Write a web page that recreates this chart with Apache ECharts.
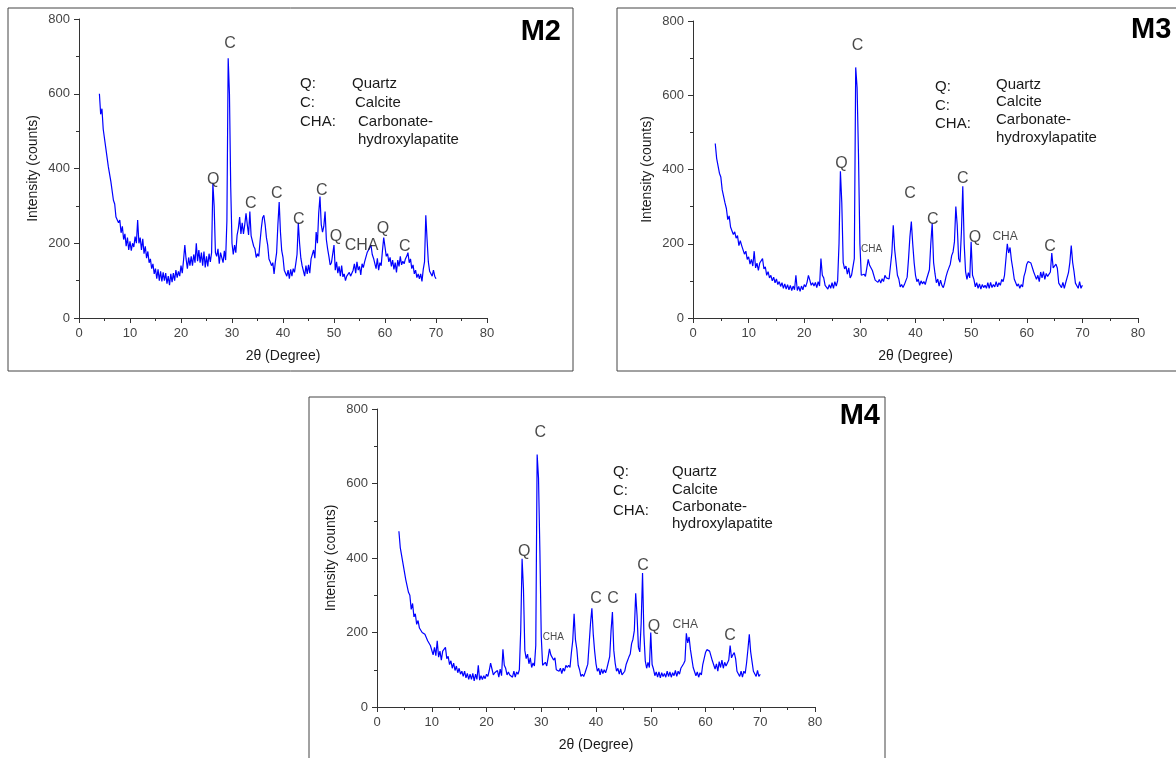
<!DOCTYPE html>
<html>
<head>
<meta charset="utf-8">
<title>XRD patterns M2, M3, M4</title>
<script src="https://cdn.jsdelivr.net/npm/echarts@6/dist/echarts.min.js"></script>
<style>
  html, body { margin: 0; padding: 0; background: #fff; }
  #chart { width: 1176px; height: 758px; }
</style>
</head>
<body>
<div id="chart"></div>
<script>
// Scan grid: intensities are sampled every 0.25 degrees of 2θ, starting at 4°.
const SCAN_START = 4;
const SCAN_STEP = 0.25;

// Axis ranges and tick spacing
const xRange = [0, 80, 10];
const yRange = [0, 800, 200];

// Intensity (counts), sample M2
const m2Intensity = [
  600, 545, 560, 505,  500, 455, 450, 405,  410, 365, 360, 315,  305, 270, 275, 255,
  262, 228, 245, 210,  225, 192, 215, 182,  205, 180, 200, 190,  218, 200, 262, 200,
  215, 182, 212, 172,  192, 160, 178, 148,  158, 132, 145, 118,  132, 105, 130, 100,
  125,  98, 122, 100,  120,  92, 112,  88,  118,  96, 120, 100,  128, 108, 125, 112,
  140, 120, 155, 195,  158, 132, 162, 140,  165, 140, 170, 148,  200, 152, 182, 148,
  175, 140, 178, 135,  165, 138, 172, 150,  175, 360, 300, 175,  165, 185, 145, 175,
  172, 148, 180, 155,  260, 695, 600, 350,  200, 170, 195, 175,  222, 240, 270, 225,
  255, 225, 250, 280,  250, 222, 285, 220,  225, 192, 185, 162,  172, 165, 205, 240,
  268, 275, 250, 215,  195, 158, 150, 140,  148, 118, 150, 175,  250, 310, 230, 180,
  162, 128, 132, 112,  128, 105, 130, 112,  132, 122, 145, 170,  255, 200, 160, 140,
  135, 112, 140, 118,  142, 120, 158, 160,  182, 160, 230, 200,  280, 325, 250, 230,
  245, 285, 210, 185,  165, 142, 148, 145,  195, 128, 150, 120,  138, 112, 140, 110,
  118, 100, 112, 108,  122, 112, 120, 128,  145, 120, 150, 128,  138, 115, 145, 135,
  150, 155, 175, 180,  188, 195, 170, 160,  155, 132, 160, 128,  148, 140, 180, 215,
  190, 165, 172, 150,  162, 138, 155, 130,  148, 122, 155, 138,  165, 142, 152, 145,
  158, 165, 175, 148,  158, 132, 142, 118,  128, 108, 118, 105,  118,  98, 130, 150,
  275, 210, 150, 125,  128, 112, 128, 112,  105
];

// Intensity (counts), sample M3
const m3Intensity = [
  470, 430, 425, 390,  380, 345, 345, 310,  295, 265, 275, 245,  245, 225, 232, 215,
  222, 195, 208, 195,  200, 172, 180, 158,  165, 145, 158, 140,  180, 135, 148, 128,
  148, 150, 160, 132,  138, 115, 125, 108,  115, 100, 110,  95,  105,  90,  98,  85,
   95,  80,  92,  78,   90,  76,  88,  74,   86,  76, 115,  74,   85,  72,  86,  76,
   90,  84,  96, 115,  102,  88,  95,  86,   96,  82,  98,  86,  160, 115, 108,  88,
   92,  78,  90,  80,   95,  80,  98,  86,  100, 200, 395, 310,  150, 132, 140, 118,
  135, 108, 115, 112,  160, 675, 620, 440,  200, 115, 115, 118,  112, 135, 158, 142,
  145, 128, 130, 102,  106,  96, 104,  94,  106,  98, 115, 108,  110, 105, 140, 175,
  250, 185, 150, 115,  105,  84,  90,  82,   90,  88, 110, 160,  220, 260, 200, 150,
  115,  98, 105,  88,  100,  92,  98,  90,  105, 102, 130, 200,  255, 150, 120,  95,
  105,  86, 102,  88,   82,  95, 112, 125,  135, 145, 168, 178,  205, 300, 250, 160,
  150, 230, 355, 200,  125, 104, 122, 108,  205, 115, 104,  84,   95,  80,  92,  78,
   90,  82,  88,  80,   95,  80,  96,  82,   90,  84,  98,  84,   95,  88, 104,  98,
  115, 120, 200, 175,  190, 155, 132, 105,  104,  86,  92,  80,   90,  84, 112, 125,
  145, 152, 156, 148,  150, 124, 120, 104,  115,  98, 124, 108,  125, 104, 120, 112,
  115, 124, 175, 135,  140, 145, 134,  94,   96,  82,  96,  80,   95,  90, 122, 150,
  195, 150, 125,  94,   96,  80,  98,  80,   88
];

// Intensity (counts), sample M4
const m4Intensity = [
  472, 428, 428, 385,  380, 342, 342, 308,  300, 262, 278, 242,  250, 222, 232, 212,
  216, 200, 200, 195,  195, 178, 176, 165,  168, 140, 160, 138,  178, 134, 150, 126,
  150, 148, 160, 130,  136, 114, 124, 104,  118,  98, 110,  92,  104,  88,  96,  82,
   96,  78,  90,  74,   88,  74,  90,  70,   88,  74, 112,  72,   84,  74,  84,  76,
   88,  82,  98, 118,  102,  86,  92,  88,   98,  80, 102,  84,  155, 112, 104,  86,
   94,  86,  88,  80,   96,  80,  94,  88,  100, 205, 398, 318,  152, 130, 142, 116,
  132, 106, 118, 110,  165, 678, 615, 420,  190, 112, 116, 120,  110, 132, 156, 140,
  142, 126, 132, 100,  104,  96, 104,  90,  104,  96, 112, 106,  112, 106, 145, 178,
  250, 180, 155, 112,  100,  82,  88,  82,   92,  90, 115, 170,  225, 265, 195, 150,
  116,  96, 104,  86,  102,  90, 100,  92,  104, 106, 135, 205,  255, 152, 118,  96,
  104,  88, 102,  86,   82,  96, 114, 124,  134, 142, 170, 182,  205, 305, 245, 160,
  148, 225, 360, 195,  124, 104, 120, 106,  200, 114, 102,  84,   94,  80,  94,  78,
   92,  82,  90,  80,   96,  82,  94,  80,   92,  84,  98,  82,   96,  88, 104, 104,
  116, 124, 198, 172,  188, 154, 130, 106,  102,  84,  94,  80,   92,  86, 114, 130,
  146, 154, 154, 150,  150, 124, 122, 102,  116,  96, 122, 106,  126, 104, 120, 110,
  114, 126, 165, 132,  140, 146, 130,  96,   94,  82,  96,  80,   96,  90, 118, 155,
  195, 148, 122,  96,   96,  82,  98,  82,   88
];

// Phase marks: [2θ, counts where the letter sits, letter, font size]
const m2Phases = [
  [29.6, 733, 'C', 16], [26.3, 369, 'Q', 16], [33.7, 307, 'C', 16], [38.8, 334, 'C', 16],
  [43.1, 262, 'C', 16], [47.6, 342, 'C', 16], [50.4, 217, 'Q', 16], [55.4, 195, 'CHA', 16],
  [59.6, 238, 'Q', 16], [63.9, 190, 'C', 16]
];
const m3Phases = [
  [29.6, 733, 'C', 16], [26.7, 415, 'Q', 16], [32.1, 185, 'CHA', 10], [39.0, 334, 'C', 16],
  [43.1, 264, 'C', 16], [48.5, 375, 'C', 16], [50.7, 216, 'Q', 16], [56.1, 218, 'CHA', 12],
  [64.2, 191, 'C', 16]
];
const m4Phases = [
  [29.8, 736, 'C', 16], [26.9, 416, 'Q', 16], [32.2, 188, 'CHA', 10], [40.0, 290, 'C', 16],
  [43.1, 290, 'C', 16], [48.6, 379, 'C', 16], [50.6, 217, 'Q', 16], [56.3, 220, 'CHA', 12],
  [64.5, 193, 'C', 16]
];

// Key text for the phase abbreviations
const phaseKeys = ['Q:', 'C:', 'CHA:'];
const phaseNames = ['Quartz', 'Calcite', 'Carbonate-', 'hydroxylapatite'];

const FONT = '"Liberation Sans", Arial, sans-serif';
const INK = '#1a1a1a';

function toPairs(values) {
  return values.map((v, i) => [SCAN_START + i * SCAN_STEP, v]);
}

// Panel layouts in pixels
const panels = [
  { title: 'M2', data: m2Intensity, phases: m2Phases,
    grid: { left: 79, top: 19, width: 408, height: 299 },
    box: { x: 8, y: 8, width: 565, height: 363 },
    titlePos: { x: 561, y: 32, align: 'right' },
    key: { x: 300, valX: [352, 355, 358, 358], ys: [84, 103, 122, 140] } },
  { title: 'M3', data: m3Intensity, phases: m3Phases,
    grid: { left: 693, top: 21, width: 445, height: 297 },
    box: { x: 617, y: 8, width: 580, height: 363 },
    titlePos: { x: 1131, y: 30, align: 'left' },
    key: { x: 935, valX: [996, 996, 996, 996], ys: [85, 102, 120, 138], keyYs: [87, 106, 124] } },
  { title: 'M4', data: m4Intensity, phases: m4Phases,
    grid: { left: 377, top: 409, width: 438, height: 298 },
    box: { x: 309, y: 397, width: 576, height: 380 },
    titlePos: { x: 880, y: 416, align: 'right' },
    key: { x: 613, valX: [672, 672, 672, 672], ys: [472, 490, 507, 524], keyYs: [472, 491, 511] } }
];

const grids = [], xAxes = [], yAxes = [], series = [], graphics = [];

panels.forEach((p, i) => {
  grids.push(Object.assign({ containLabel: false }, p.grid));
  xAxes.push({
    type: 'value', gridIndex: i, min: xRange[0], max: xRange[1], interval: xRange[2],
    name: '2θ (Degree)', nameLocation: 'middle', nameGap: 31,
    nameTextStyle: { fontFamily: FONT, fontSize: 14, color: INK },
    axisLine: { show: true, lineStyle: { color: '#333', width: 1 } },
    axisTick: { show: true, length: 5, lineStyle: { color: '#333' } },
    minorTick: { show: true, splitNumber: 2, length: 3, lineStyle: { color: '#333' } },
    axisLabel: { fontFamily: FONT, fontSize: 13, color: '#444', margin: 9 },
    splitLine: { show: false }
  });
  yAxes.push({
    type: 'value', gridIndex: i, min: yRange[0], max: yRange[1], interval: yRange[2],
    name: 'Intensity (counts)', nameLocation: 'middle', nameGap: 39, nameRotate: 90,
    nameTextStyle: { fontFamily: FONT, fontSize: 14, color: INK },
    axisLine: { show: true, lineStyle: { color: '#333', width: 1 } },
    axisTick: { show: true, length: 5, lineStyle: { color: '#333' } },
    minorTick: { show: true, splitNumber: 2, length: 3, lineStyle: { color: '#333' } },
    axisLabel: { fontFamily: FONT, fontSize: 13, color: '#444', margin: 9 },
    splitLine: { show: false }
  });
  series.push({
    type: 'line', xAxisIndex: i, yAxisIndex: i,
    data: toPairs(p.data), showSymbol: false, symbol: 'none',
    lineStyle: { color: '#0000ff', width: 1.2 }, silent: true, z: 2
  });
  series.push({
    type: 'scatter', xAxisIndex: i, yAxisIndex: i, symbolSize: 0, silent: true, z: 3,
    data: p.phases.map(d => ({
      value: [d[0], d[1]], name: d[2],
      label: { show: true, position: 'inside', formatter: d[2], fontSize: d[3],
               fontFamily: FONT, color: INK }
    }))
  });

  graphics.push({
    type: 'rect', shape: p.box, silent: true, z: 0,
    style: { fill: 'none', stroke: '#444', lineWidth: 1 }
  });
  graphics.push({
    type: 'text', x: p.titlePos.x, y: p.titlePos.y, silent: true,
    style: { text: p.title, fontFamily: FONT, fontSize: 29, fontWeight: 'bold', fill: '#000',
             align: p.titlePos.align, verticalAlign: 'middle' }
  });
  const keyYs = p.key.keyYs || p.key.ys.slice(0, 3);
  phaseKeys.forEach((k, j) => {
    graphics.push({
      type: 'text', x: p.key.x, y: keyYs[j], silent: true,
      style: { text: k, fontFamily: FONT, fontSize: 15, fill: INK, verticalAlign: 'middle' }
    });
  });
  phaseNames.forEach((n, j) => {
    graphics.push({
      type: 'text', x: p.key.valX[j], y: p.key.ys[j], silent: true,
      style: { text: n, fontFamily: FONT, fontSize: 15, fill: INK, verticalAlign: 'middle' }
    });
  });
});

const chart = echarts.init(document.getElementById('chart'), null, { renderer: 'canvas' });
chart.setOption({
  animation: false,
  backgroundColor: '#fff',
  grid: grids,
  xAxis: xAxes,
  yAxis: yAxes,
  series: series,
  graphic: graphics
});
</script>
</body>
</html>
